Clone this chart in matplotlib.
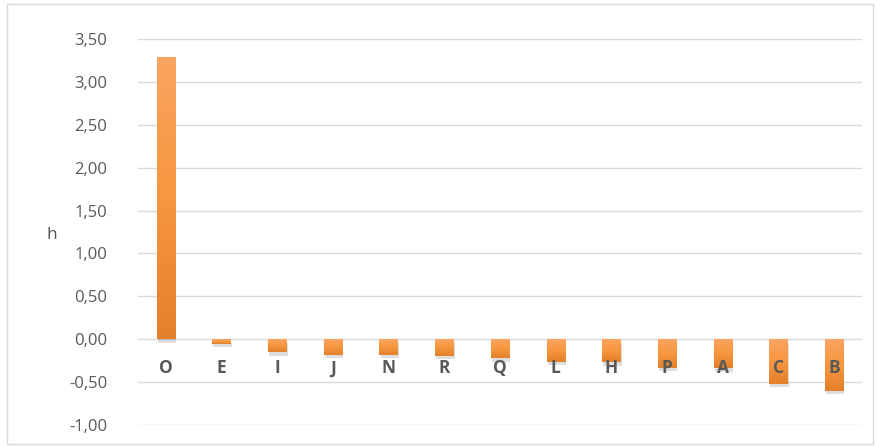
import numpy as np
import matplotlib.pyplot as plt
from matplotlib.colors import LinearSegmentedColormap
from matplotlib.patches import Rectangle

plt.rcParams['font.family'] = ['Open Sans', 'DejaVu Sans']

# data
labels = ['O', 'E', 'I', 'J', 'N', 'R', 'Q', 'L', 'H', 'P', 'A', 'C', 'B']
values = [3.29, -0.05, -0.15, -0.18, -0.18, -0.19, -0.22, -0.26, -0.27, -0.33, -0.34, -0.52, -0.60]
yticks = [-1.0, -0.5, 0.0, 0.5, 1.0, 1.5, 2.0, 2.5, 3.0, 3.5]

fig = plt.figure(figsize=(8.77, 4.46), dpi=100)
ax = fig.add_axes([138/877, 1 - 425/446, (862-138)/877, (425-39)/446])

# chart border
fig.patches.append(Rectangle((7/877, 2/446), 866/877, 440/446, transform=fig.transFigure,
                             fill=False, edgecolor='#d9d9d9', lw=1))

x = np.arange(len(labels))
bars = ax.bar(x, values, width=0.33, color='none', zorder=3)

cmap = LinearSegmentedColormap.from_list('og', ['#e3802b', '#f7973f', '#f9a461'])
grad = np.linspace(0, 1, 256).reshape(-1, 1)
for b in bars:
    x0, y0 = b.get_x(), b.get_y()
    w, h = b.get_width(), b.get_height()
    lo, hi = min(y0, y0 + h), max(y0, y0 + h)
    # soft shadow
    ax.add_patch(Rectangle((x0 + 0.02, lo - 0.04), w, hi - lo, color='#000000',
                           alpha=0.13, zorder=2, lw=0))
    im = ax.imshow(grad, cmap=cmap, extent=[x0, x0 + w, lo, hi], origin='lower',
                   aspect='auto', zorder=3)
    im.set_clip_path(b)

ax.set_xlim(-0.5, len(labels) - 0.5)
ax.set_ylim(-1.0, 3.5)
ax.set_yticks(yticks)
ax.set_yticklabels([f'{v:.2f}'.replace('.', ',') for v in yticks], color='#595959', fontsize=12)
ax.yaxis.grid(True, color='#d9d9d9', lw=1, zorder=0)
ax.tick_params(axis='y', length=0, pad=22)

ax.set_xticks([])
for xi, lab in zip(x, labels):
    ax.text(xi, -0.34, lab, ha='center', va='center', fontsize=12.5, fontweight='bold',
            color='#595959', zorder=4)

for s in ax.spines.values():
    s.set_visible(False)

fig.text(52/877, 1 - 235/446, 'h', ha='center', va='center', fontsize=12.5, color='#595959')

fig.savefig('out.png', dpi=100)
